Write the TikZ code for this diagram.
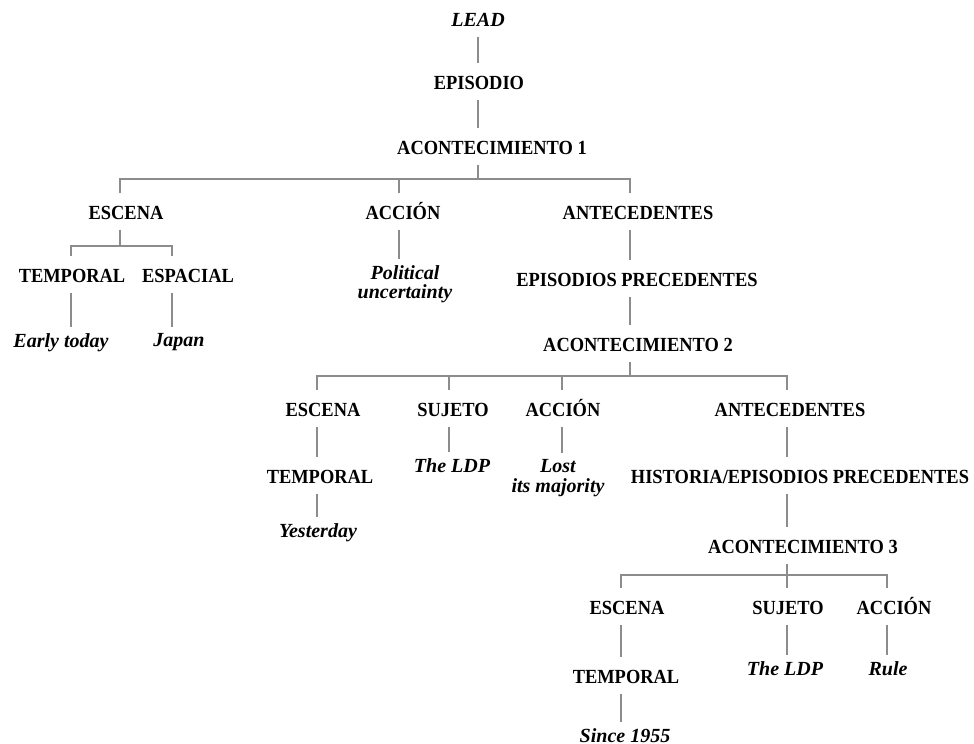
\documentclass[tikz,border=0pt]{standalone}
\usepackage{fontspec}
\setmainfont{Liberation Serif}[FakeStretch=0.92]
\newfontfamily\leaffont{Liberation Serif}
\definecolor{linegray}{HTML}{8C8C8C}

\begin{document}
\begin{tikzpicture}[
  x=0.02cm, y=-0.02cm,
  tag/.style={font=\fontsize{11.4}{13}\selectfont\bfseries,
    inner xsep=0pt, inner ysep=5.5pt, text height=7.6pt, text depth=0pt},
  headtag/.style={tag, font=\leaffont\fontsize{11.4}{13}\selectfont\bfseries\itshape},
  leaf/.style={font=\leaffont\fontsize{11.4}{11.3}\selectfont\bfseries\itshape,
    inner xsep=0pt, inner ysep=1pt, align=center, anchor=north},
  stem/.style={draw=linegray, line width=0.6pt},
  link/.style={stem, shorten >=2pt},
]
\useasboundingbox (0,0) rectangle (974,744);

% ── columns the connectors run down, and the bars where they split ────────
\coordinate (cLead) at (478,0);
\coordinate (cEscA) at (120,0);  \coordinate (cAccA) at (399,0);  \coordinate (cAntA) at (630,0);
\coordinate (cTempA) at (71,0);  \coordinate (cEspA) at (172,0);
\coordinate (cEscB) at (317,0);  \coordinate (cSujB) at (449,0);
\coordinate (cAccB) at (562,0);  \coordinate (cAntB) at (787,0);
\coordinate (cEscC) at (621,0);  \coordinate (cSujC) at (787,0);  \coordinate (cAccC) at (887,0);

\coordinate (jA1) at (478,179);
\coordinate (jEscA) at (120,246);
\coordinate (jA2) at (630,376);
\coordinate (jA3) at (787,575);

% ── lead, episode, first event ────────────────────────────────────────────
\node[headtag] (lead) at (478,20) {LEAD};
\node[tag] (episodio) at (479,83) {EPISODIO};
\node[tag] (a1) at (492,148) {ACONTECIMIENTO 1};

\node[tag] (escA) at (126,213) {ESCENA};
\node[tag] (accA) at (403,213) {ACCIÓN};
\node[tag] (antA) at (638,213) {ANTECEDENTES};

\node[tag] (tempA) at (72,276) {TEMPORAL};
\node[tag] (espA) at (188,276) {ESPACIAL};
\node[leaf] (early) at (61,331) {Early today};
\node[leaf] (japan) at (179,331) {Japan};
\node[leaf] (political) at (405,263) {Political\\uncertainty};

\node[tag] (epprec) at (637,280) {EPISODIOS PRECEDENTES};
\node[tag] (a2) at (638,345) {ACONTECIMIENTO 2};

% ── second event ──────────────────────────────────────────────────────────
\node[tag] (escB) at (323,410) {ESCENA};
\node[tag] (sujB) at (453,410) {SUJETO};
\node[tag] (accB) at (563,410) {ACCIÓN};
\node[tag] (antB) at (790,410) {ANTECEDENTES};

\node[tag] (tempB) at (320,477) {TEMPORAL};
\node[leaf] (yesterday) at (318,521) {Yesterday};
\node[leaf] (ldpB) at (452,456) {The LDP};
\node[leaf] (lost) at (558,457) {Lost\\its majority};

\node[tag] (histB) at (800,477) {HISTORIA/EPISODIOS PRECEDENTES};
\node[tag] (a3) at (803,547) {ACONTECIMIENTO 3};

% ── third event ───────────────────────────────────────────────────────────
\node[tag] (escC) at (627,608) {ESCENA};
\node[tag] (sujC) at (788,608) {SUJETO};
\node[tag] (accC) at (894,608) {ACCIÓN};

\node[tag] (tempC) at (626,677) {TEMPORAL};
\node[leaf] (since) at (625,726) {Since 1955};
\node[leaf] (ldpC) at (785,659) {The LDP};
\node[leaf] (rule) at (888,659) {Rule};

% ── connectors ────────────────────────────────────────────────────────────
\draw[link] (lead.south -| cLead) -- (cLead |- episodio.north);
\draw[link] (episodio.south -| cLead) -- (cLead |- a1.north);
\draw[stem] (a1.south -| jA1) -- (jA1);
\draw[link] (jA1) -| (cEscA |- escA.north);
\draw[link] (jA1) -| (cAccA |- accA.north);
\draw[link] (jA1) -| (cAntA |- antA.north);

\draw[stem] (escA.south -| jEscA) -- (jEscA);
\draw[link] (jEscA) -| (cTempA |- tempA.north);
\draw[link] (jEscA) -| (cEspA |- espA.north);
\draw[link] (tempA.south -| cTempA) -- (cTempA |- early.north);
\draw[link] (espA.south -| cEspA) -- (cEspA |- japan.north);
\draw[link] (accA.south -| cAccA) -- (cAccA |- political.north);

\draw[link] (antA.south -| cAntA) -- (cAntA |- epprec.north);
\draw[link] (epprec.south -| cAntA) -- (cAntA |- a2.north);
\draw[stem] (a2.south -| jA2) -- (jA2);
\draw[link] (jA2) -| (cEscB |- escB.north);
\draw[link] (jA2) -| (cSujB |- sujB.north);
\draw[link] (jA2) -| (cAccB |- accB.north);
\draw[link] (jA2) -| (cAntB |- antB.north);

\draw[link] (escB.south -| cEscB) -- (cEscB |- tempB.north);
\draw[link] (tempB.south -| cEscB) -- (cEscB |- yesterday.north);
\draw[link] (sujB.south -| cSujB) -- (cSujB |- ldpB.north);
\draw[link] (accB.south -| cAccB) -- (cAccB |- lost.north);
\draw[link] (antB.south -| cAntB) -- (cAntB |- histB.north);
\draw[link] (histB.south -| cAntB) -- (cAntB |- a3.north);

\draw[stem] (a3.south -| jA3) -- (jA3);
\draw[link] (jA3) -| (cEscC |- escC.north);
\draw[link] (jA3) -- (cSujC |- sujC.north);
\draw[link] (jA3) -| (cAccC |- accC.north);

\draw[link] (escC.south -| cEscC) -- (cEscC |- tempC.north);
\draw[link] (tempC.south -| cEscC) -- (cEscC |- since.north);
\draw[link] (sujC.south -| cSujC) -- (cSujC |- ldpC.north);
\draw[link] (accC.south -| cAccC) -- (cAccC |- rule.north);

\end{tikzpicture}
\end{document}
